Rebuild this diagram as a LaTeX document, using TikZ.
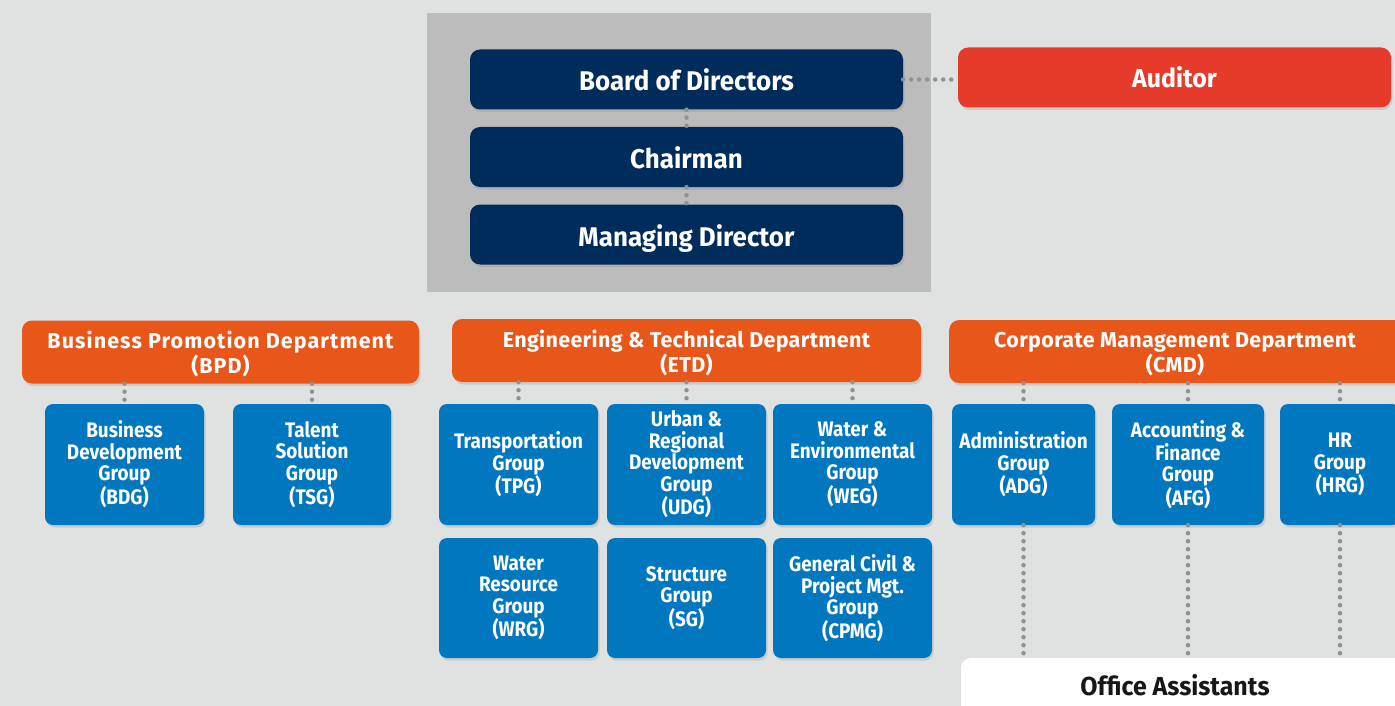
\documentclass[tikz,border=0pt]{standalone}
\usepackage{fontspec}
\setmainfont{Fira Sans}
\newfontfamily\topfont{Fira Sans}[FakeStretch=0.96]
\newfontfamily\deptfont{Fira Sans}[LetterSpace=5]
\newfontfamily\deptfontb{Fira Sans}[LetterSpace=1.5]
\newfontfamily\grpfont{Fira Sans}[FakeStretch=0.9]
\usetikzlibrary{shadows}
\definecolor{bgc}{RGB}{224,226,225}
\definecolor{panelc}{RGB}{187,188,187}
\definecolor{navyc}{RGB}{0,44,92}
\definecolor{redc}{RGB}{230,58,42}
\definecolor{orangec}{RGB}{232,86,26}
\definecolor{bluec}{RGB}{0,119,190}
\definecolor{dotc}{RGB}{145,145,145}
\definecolor{darktxt}{RGB}{25,22,22}
\tikzset{
  boxbase/.style={rounded corners=10pt, inner sep=0pt, align=center, text=white,
    drop shadow={opacity=0.22, shadow xshift=1.5pt, shadow yshift=-2.5pt}},
  topbox/.style={boxbase, fill=navyc, minimum width=433pt, minimum height=60pt,
    text height=23pt, text depth=0pt, font=\fontsize{27}{30}\selectfont\topfont\bfseries},
  audbox/.style={boxbase, fill=redc, minimum width=433pt, minimum height=60pt,
    text height=20pt, text depth=0pt, font=\fontsize{26}{30}\selectfont\topfont\bfseries},
  deptbox/.style={boxbase, fill=orangec, minimum height=63pt},
  depttext/.style={inner sep=0pt, align=center, text=white,
    font=\fontsize{21.5}{25}\selectfont\deptfont\bfseries},
  depttextb/.style={depttext, font=\fontsize{21.5}{25}\selectfont\deptfontb\bfseries},
  grpbox/.style={boxbase, rounded corners=8pt, fill=bluec, minimum height=121pt,
    font=\fontsize{21}{21.5}\selectfont\grpfont\bfseries},
  officebox/.style={rounded corners=10pt, fill=white, minimum width=460pt, minimum height=70pt,
    drop shadow={opacity=0.15, shadow xshift=1pt, shadow yshift=-2pt}},
  dotline/.style={draw=dotc, line width=4.5pt, line cap=round, dash pattern=on 0pt off 8pt},
}
\begin{document}
\begin{tikzpicture}[x=1pt,y=-1pt]
\useasboundingbox (0,0) rectangle (1395,706);
\clip (0,0) rectangle (1395,706);
\fill[bgc] (0,0) rectangle (1395,706);
\fill[panelc] (427,13) rectangle (931,292);

% top
\node[topbox] (bod) at (686.5,79.5) {Board of Directors};
\node[topbox] (chair) at (686.5,157) {Chairman};
\node[topbox] (md) at (686.5,234.5) {Managing Director};
\node[audbox] (aud) at (1174.5,77.5) {Auditor};

% departments
\node[deptbox, minimum width=397pt] (bpd) at (220.5,352) {};
\node[depttext] (bpdt) at ([yshift=-2pt]bpd.center) {Business Promotion Department\\(BPD)};
\node[deptbox, minimum width=469pt] (etd) at (686.5,350.5) {};
\node[depttextb] (etdt) at ([yshift=-2.5pt]etd.center) {Engineering \& Technical Department\\(ETD)};
\node[deptbox, minimum width=456pt, anchor=west] (cmd) at (949,351.5) {};
\node[depttextb] (cmdt) at (1175,354) {Corporate Management Department\\(CMD)};

% groups row 1
\node[grpbox, minimum width=159pt] (bdg) at (124.5,464.5) {Business\\Development\\Group\\(BDG)};
\node[grpbox, minimum width=158pt] (tsg) at (312,464.5) {Talent\\Solution\\Group\\(TSG)};
\node[grpbox, minimum width=159pt] (tpg) at (518.5,464.5) {Transportation\\Group\\(TPG)};
\node[grpbox, minimum width=159pt] (udg) at (686.5,464.5) {Urban \&\\Regional\\Development\\Group\\(UDG)};
\node[grpbox, minimum width=159pt] (weg) at (852.5,464.5) {Water \&\\Environmental\\Group\\(WEG)};
\node[grpbox, minimum width=143pt] (adg) at (1023.5,464.5) {Administration\\Group\\(ADG)};
\node[grpbox, minimum width=152pt] (afg) at (1188,464.5) {Accounting \&\\Finance\\Group\\(AFG)};
\node[grpbox, minimum width=120pt] (hrg) at (1340,464.5) {HR\\Group\\(HRG)};

% groups row 2
\node[grpbox, minimum width=159pt, minimum height=120pt] (wrg) at (518.5,598) {Water\\Resource\\Group\\(WRG)};
\node[grpbox, minimum width=159pt, minimum height=120pt] (sg) at (686.5,598) {Structure\\Group\\(SG)};
\node[grpbox, minimum width=159pt, minimum height=120pt] (cpmg) at (852.5,598) {General Civil \&\\Project Mgt.\\Group\\(CPMG)};

% office assistants
\node[officebox] (office) at (1191,693) {};
\node[text=darktxt, font=\fontsize{26}{30}\selectfont\topfont\bfseries, inner sep=0pt] (officet) at (1175,685) {Office Assistants};

% connectors
\draw[dotline] (bod.east) -- (bod.east -| aud.west);
\draw[dotline] (bod.south) -- (chair.north);
\draw[dotline] (chair.south) -- (md.north);
\draw[dotline] (bdg.north |- bpd.south) -- (bdg.north);
\draw[dotline] (tsg.north |- bpd.south) -- (tsg.north);
\draw[dotline] (tpg.north |- etd.south) -- (tpg.north);
\draw[dotline] (udg.north |- etd.south) -- (udg.north);
\draw[dotline] (weg.north |- etd.south) -- (weg.north);
\draw[dotline] (adg.north |- cmd.south) -- (adg.north);
\draw[dotline] (afg.north |- cmd.south) -- (afg.north);
\draw[dotline] (hrg.north |- cmd.south) -- (hrg.north);
\draw[dotline] (adg.south) -- (adg.south |- office.north);
\draw[dotline] (afg.south) -- (afg.south |- office.north);
\draw[dotline] (hrg.south) -- (hrg.south |- office.north);
\end{tikzpicture}
\end{document}
